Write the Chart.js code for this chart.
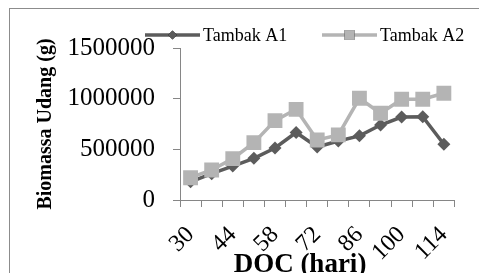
<!DOCTYPE html>
<html>
<head>
<meta charset="utf-8">
<script src="https://cdn.jsdelivr.net/npm/chart.js@4/dist/chart.umd.min.js"></script>
<style>
  html, body { margin: 0; padding: 0; background: #fff; overflow: hidden; }
  #wrap { position: relative; width: 479px; height: 273px; }
  #frame { position: absolute; left: 9px; top: 8px; width: 600px; height: 400px; border: 1px solid #8c8c8c; }
  canvas { position: absolute; left: 0; top: 0; }
</style>
</head>
<body>
<div id="wrap">
  <div id="frame"></div>
  <canvas id="chart" width="479" height="273"></canvas>
</div>
<script>
const days = ['30', '37', '44', '51', '58', '65', '72', '79', '86', '93', '100', '107', '114'];
const tambakA1 = [180000, 260000, 335000, 411000, 513000, 666000, 523000, 582000, 633000, 740000, 819000, 822000, 550000];
const tambakA2 = [220000, 296000, 408000, 566000, 783000, 895000, 592000, 642000, 1004000, 856000, 994000, 994000, 1053000];
const yTicks = [0, 500000, 1000000, 1500000];

const serif = "'Liberation Serif', 'Times New Roman', serif";

// legend with line + marker, and the x title, drawn by hand
const extras = {
  id: 'extras',
  afterDraw(chart) {
    const ctx = chart.ctx;
    const items = [
      { ds: chart.data.datasets[0], x0: 145, x1: 200, tx: 203, r: 4.5 },
      { ds: chart.data.datasets[1], x0: 322, x1: 377, tx: 380, r: 7 }
    ];
    const y = 35;
    ctx.save();
    items.forEach(it => {
      ctx.strokeStyle = it.ds.borderColor;
      ctx.lineWidth = 3.5;
      ctx.beginPath();
      ctx.moveTo(it.x0, y);
      ctx.lineTo(it.x1, y);
      ctx.stroke();
      Chart.helpers.drawPoint(ctx, {
        pointStyle: it.ds.pointStyle, radius: it.r, borderWidth: 0
      }, (it.x0 + it.x1) / 2, y);
      ctx.fillStyle = it.ds.pointBackgroundColor;
      ctx.fill();
      ctx.fillStyle = '#000';
      ctx.font = '18px ' + serif;
      ctx.textBaseline = 'middle';
      ctx.textAlign = 'left';
      ctx.fillText(it.ds.label, it.tx, y + 1);
    });
    ctx.font = 'bold 27px ' + serif;
    ctx.textAlign = 'center';
    ctx.textBaseline = 'alphabetic';
    ctx.fillText('DOC (hari)', 300, 272);
    ctx.restore();
  }
};

new Chart(document.getElementById('chart'), {
  type: 'line',
  data: {
    labels: days,
    datasets: [
      {
        label: 'Tambak A1',
        data: tambakA1,
        borderColor: '#5c5c5c',
        backgroundColor: '#5c5c5c',
        pointBackgroundColor: '#5c5c5c',
        pointBorderWidth: 0,
        pointStyle: 'rectRot',
        pointRadius: 6.5,
        borderWidth: 3.5,
        tension: 0,
        order: 1
      },
      {
        label: 'Tambak A2',
        data: tambakA2,
        borderColor: '#b4b4b4',
        backgroundColor: '#b4b4b4',
        pointBackgroundColor: '#b4b4b4',
        pointBorderWidth: 0,
        pointStyle: 'rect',
        pointRadius: 10.5,
        borderWidth: 3.5,
        tension: 0,
        order: 0
      }
    ]
  },
  options: {
    responsive: false,
    animation: false,
    layout: { padding: { top: 48, right: 20, left: 0, bottom: 0 } },
    plugins: { legend: { display: false }, tooltip: { enabled: false } },
    scales: {
      x: {
        offset: true,
        afterFit: s => { s.height = 73; },
        grid: { offset: true, drawOnChartArea: false, color: '#868686', tickLength: 7 },
        border: { color: '#868686', width: 1 },
        ticks: {
          autoSkip: false,
          minRotation: 45,
          maxRotation: 45,
          padding: 14,
          color: '#000',
          font: { family: serif, size: 24 },
          callback: function (v, i) { return i % 2 === 0 ? this.getLabelForValue(v) : ''; }
        }
      },
      y: {
        min: 0,
        max: 1500000,
        afterFit: s => { s.width = 180; },
        afterBuildTicks: s => { s.ticks = yTicks.map(v => ({ value: v })); },
        grid: { drawOnChartArea: false, color: '#868686', tickLength: 7 },
        border: { color: '#868686', width: 1 },
        ticks: {
          padding: 18,
          color: '#000',
          font: { family: serif, size: 25 },
          callback: v => String(v)
        },
        title: {
          display: true,
          text: 'Biomassa Udang (g)',
          color: '#000',
          font: { family: serif, size: 20, weight: 'bold' },
          padding: { top: 34, bottom: 0 }
        }
      }
    }
  },
  plugins: [extras]
});
</script>
</body>
</html>
